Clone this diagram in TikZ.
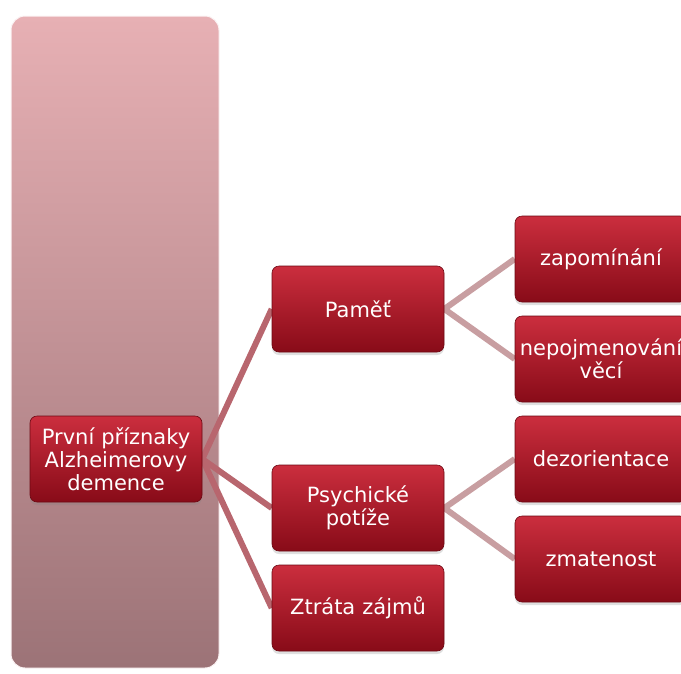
\documentclass[tikz,border=0pt]{standalone}
\usepackage{fontspec}
\setmainfont{DejaVu Sans}
\usetikzlibrary{backgrounds,shadows}

\definecolor{boxtop}{HTML}{CB2E3E}
\definecolor{boxbot}{HTML}{880B18}
\definecolor{paneltop}{HTML}{E7B0B4}
\definecolor{panelbot}{HTML}{9C7377}
\definecolor{linkone}{HTML}{B8666E}
\definecolor{linktwo}{HTML}{C89EA1}

\tikzset{
  redbox/.style={rectangle, rounded corners=7pt, top color=boxtop, bottom color=boxbot,
    draw=boxbot!80!black, line width=0.6pt, text=white, align=center,
    text width=164pt, inner xsep=4pt, minimum height=86pt,
    font=\fontsize{21}{23}\selectfont,
    drop shadow={opacity=0.25, shadow xshift=0pt, shadow yshift=-3pt}},
  linkmain/.style={draw=linkone, line width=6pt},
  linkside/.style={draw=linktwo, line width=6pt}
}

\begin{document}
\begin{tikzpicture}[x=1pt, y=-1pt]
      \useasboundingbox (0,0) rectangle (681,673);
      \clip (0,0) rectangle (681,673);

      % Draw the panel behind the root
      \begin{scope}[on background layer]
        \draw[rounded corners=14pt, top color=paneltop, bottom color=panelbot, draw=white!85!paneltop, line width=1pt]
          (11,16) rectangle (219,668);
      \end{scope}

      % Draw the root
      \node[redbox] (root) at (116,459) {První příznaky\\Alzheimerovy\\demence};

      % Draw the second level
      \node[redbox] (pamet) at (358,309) {Paměť};
      \node[redbox] (psych) at (358,508) {Psychické\\potíže};
      \node[redbox] (zajem) at (358,608) {Ztráta zájmů};

      % Draw the third level
      \node[redbox] (zapom) at (601,259) {zapomínání};
      \node[redbox] (nepoj) at (601,359) {nepojmenování\\věcí};
      \node[redbox] (dezor) at (601,459) {dezorientace};
      \node[redbox] (zmat) at (601,559) {zmatenost};

      % Draw the connectors
      \begin{scope}[on background layer]
        \draw[linkmain] (root.east) -- (pamet.west);
        \draw[linkmain] (root.east) -- (psych.west);
        \draw[linkmain] (root.east) -- (zajem.west);
        \draw[linkside] (pamet.east) -- (zapom.west);
        \draw[linkside] (pamet.east) -- (nepoj.west);
        \draw[linkside] (psych.east) -- (dezor.west);
        \draw[linkside] (psych.east) -- (zmat.west);
      \end{scope}
    \end{tikzpicture}
\end{document}
